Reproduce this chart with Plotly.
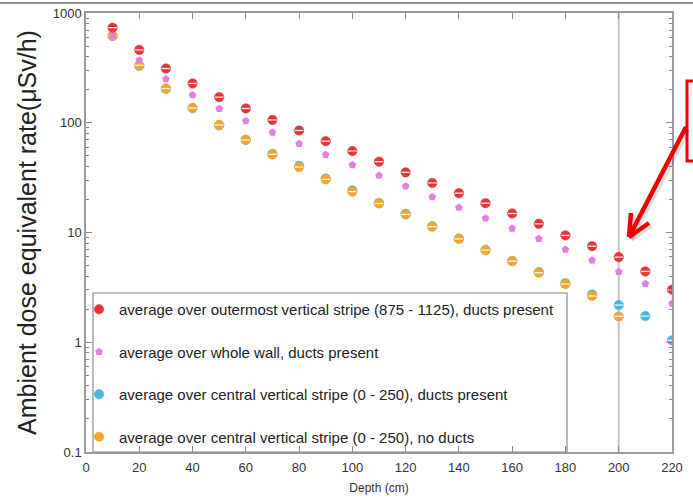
import plotly.graph_objects as go

# Depth into the wall (cm)
depth = [10, 20, 30, 40, 50, 60, 70, 80, 90, 100, 110,
         120, 130, 140, 150, 160, 170, 180, 190, 200, 210, 220]

# Ambient dose equivalent rate (uSv/h)
outer_stripe_ducts = [735, 461, 312, 228, 171, 135, 106, 85, 68, 55.3, 44.2,
                      35.3, 28.3, 22.8, 18.5, 14.9, 12.0, 9.4, 7.5, 5.97, 4.42, 3.01]
whole_wall_ducts = [620, 371, 250, 179, 134, 103.5, 81.6, 64.4, 51.2, 41.2, 33.0,
                    26.4, 21.1, 16.9, 13.5, 10.9, 8.75, 7.0, 5.6, 4.39, 3.41, 2.26]
central_stripe_ducts = [615, 330, 204, 136, 95, 70, 52, 40.5, 31, 24.2, 18.6,
                        14.8, 11.4, 8.8, 6.95, 5.5, 4.35, 3.45, 2.72, 2.18, 1.73, 1.04]
central_stripe_no_ducts = [622, 334, 205, 136, 95.3, 69.7, 51.5, 39.5, 30.5, 23.6, 18.4,
                           14.6, 11.3, 8.75, 6.9, 5.48, 4.3, 3.39, 2.64, 1.72]

x_ticks = [0, 20, 40, 60, 80, 100, 120, 140, 160, 180, 200, 220]
y_ticks = [0.1, 1, 10, 100, 1000]
y_tick_labels = ["0.1", "1", "10", "100", "1000"]

labels = [
    "average over outermost vertical stripe (875 - 1125), ducts present",
    "average over whole wall, ducts present",
    "average over central vertical stripe (0 - 250), ducts present",
    "average over central vertical stripe (0 - 250), no ducts",
]

RED = "#e8323c"
PINK = "#e67ce6"
CYAN = "#45b6e6"
ORANGE = "#f5a52a"

W, H = 693, 498
L, R, T, B = 86, 21, 13, 46
PW, PH = W - L - R, H - T - B


def px(x):
    return (x - L) / PW


def py(y):
    return (H - B - y) / PH


fig = go.Figure()


def sphere(xs, ys, color, name, rank):
    # filled disc with a thin white band, like the shaded plot symbols
    fig.add_trace(go.Scatter(
        x=xs, y=ys, mode="markers", name=name, legendrank=rank,
        legendgroup=name,
        marker=dict(symbol="circle", size=9.5, color=color,
                    line=dict(color=color, width=0.5)),
    ))
    fig.add_trace(go.Scatter(
        x=xs, y=ys, mode="markers", showlegend=False, hoverinfo="skip",
        legendgroup=name,
        marker=dict(symbol="line-ew", size=6,
                    line=dict(color="rgba(255,255,255,0.9)", width=1.3)),
    ))


sphere(depth, central_stripe_ducts, CYAN, labels[2], 3)
sphere(depth[:len(central_stripe_no_ducts)], central_stripe_no_ducts, ORANGE, labels[3], 4)
fig.add_trace(go.Scatter(
    x=depth, y=whole_wall_ducts, mode="markers", name=labels[1], legendrank=2,
    legendgroup=labels[1],
    marker=dict(symbol="pentagon", size=8, color=PINK, line=dict(width=0)),
))
sphere(depth, outer_stripe_ducts, RED, labels[0], 1)

minor_vals = [m * 10 ** e for e in range(-1, 3) for m in range(2, 10)]

axis_common = dict(
    showline=True, linecolor="#9a9a9a", linewidth=1.5, mirror="allticks",
    ticks="inside", tickcolor="#8a8a8a", tickwidth=1.2,
    showgrid=False, zeroline=False, automargin=False,
    tickfont=dict(family="Liberation Sans", size=13, color="#333"),
)

fig.update_layout(
    width=W, height=H,
    margin=dict(l=L, r=R, t=T, b=B),
    paper_bgcolor="white", plot_bgcolor="white",
    font=dict(family="Liberation Sans", color="#222"),
    xaxis=dict(
        range=[0, 220], tickvals=x_ticks, ticklen=6, ticklabelstandoff=3,
        title=dict(text="Depth (cm)", font=dict(size=12, color="#333"), standoff=9),
        **axis_common,
    ),
    yaxis=dict(
        type="log", range=[-1, 3], tickvals=y_ticks, ticktext=y_tick_labels, ticklen=6,
        minor=dict(tickvals=minor_vals, ticks="inside", ticklen=3,
                   tickcolor="#8a8a8a", tickwidth=1),
        title=dict(text="Ambient dose equivalent rate(μSv/h)",
                   font=dict(size=25, color="#222"), standoff=9),
        **axis_common,
    ),
    legend=dict(
        x=px(79), y=py(293), xanchor="left", yanchor="top",
        bgcolor="rgba(0,0,0,0)", borderwidth=0,
        font=dict(family="Liberation Sans", size=15, color="#222"),
        tracegroupgap=20, itemwidth=30,
    ),
    showlegend=True,
)

shapes = [
    # reference line at 200 cm
    dict(type="line", xref="x", yref="paper", x0=200, x1=200, y0=0, y1=1,
         line=dict(color="#c4c4c4", width=2), layer="below"),
    # legend frame
    dict(type="rect", xref="paper", yref="paper", x0=px(93), x1=px(567), y0=0, y1=py(293),
         line=dict(color="#8a8a8a", width=1.2), layer="below"),
    # page rule across the top
    dict(type="line", xref="paper", yref="paper", x0=px(0), x1=px(693), y0=py(3), y1=py(3),
         line=dict(color="#6a6a6a", width=1.5)),
    # red call-out box
    dict(type="rect", xref="paper", yref="paper", x0=px(687), x1=px(700), y0=py(161), y1=py(81),
         line=dict(color="#ee0000", width=3)),
]

# call-out arrow (soft shadow first, then the red strokes)
arrow = [((686, 127), (629, 237)), ((629, 237), (631, 213)), ((629, 237), (649, 223))]
for (x0, y0), (x1, y1) in arrow:
    shapes.append(dict(type="line", xref="paper", yref="paper",
                       x0=px(x0 + 2), y0=py(y0 + 2), x1=px(x1 + 2), y1=py(y1 + 2),
                       line=dict(color="rgba(0,0,0,0.12)", width=6)))
for (x0, y0), (x1, y1) in arrow:
    shapes.append(dict(type="line", xref="paper", yref="paper",
                       x0=px(x0), y0=py(y0), x1=px(x1), y1=py(y1),
                       line=dict(color="#f20000", width=4.5)))

fig.update_layout(shapes=shapes)

fig.write_html("out.html")
